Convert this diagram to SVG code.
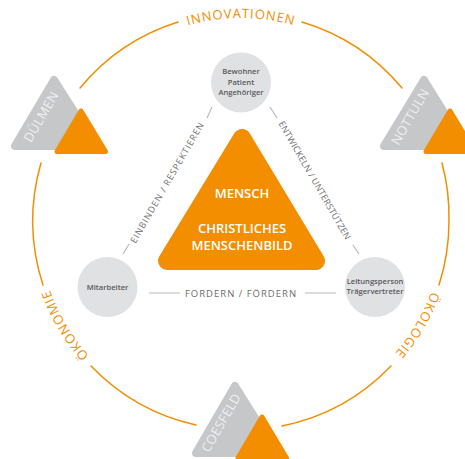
<svg xmlns="http://www.w3.org/2000/svg" width="465" height="459" viewBox="0 0 465 459">
<style>
text{font-family:"Open Sans","Noto Sans",sans-serif}
.arc{fill:none;stroke:#f28e00;stroke-width:1.5;stroke-linecap:round}
.ring{fill:#f28e00;font-size:13px;letter-spacing:.9px;text-anchor:middle}
.conn{fill:none;stroke:#b9babc;stroke-width:1.2}
.lab{fill:#6d6e70;font-size:9px;text-anchor:middle}
.circ{fill:#e0e1e3}
.ntx{fill:#58595b;font-size:7.6px;text-anchor:middle;font-weight:600}
.gr{fill:#c6c7c9;stroke:#c6c7c9;stroke-width:8;stroke-linejoin:round}
.or{fill:#f28e00;stroke:#f28e00;stroke-width:5;stroke-linejoin:round}
.loc{fill:#eeeff0;font-size:13px;text-anchor:middle;letter-spacing:.3px}
.mt{fill:#fff;font-size:13px;text-anchor:middle;font-weight:600}
</style>
<defs>
<path id="pt" d="M41 221A200 203 0 0 1 441 221"/>
<path id="pl" d="M241 424A203 203 0 0 1 38 221"/>
<path id="pr" d="M444 221A203 203 0 0 1 241 424"/>
</defs>
<g id="ring">
<path class="arc" d="M80 88A208 208 0 0 1 178 22"/>
<path class="arc" d="M302 22A208 208 0 0 1 402 88"/>
<path class="arc" d="M41 163A208 208 0 0 0 43 285"/>
<path class="arc" d="M91 366A208 208 0 0 0 196 425"/>
<path class="arc" d="M282 426A208 208 0 0 0 391 366"/>
<path class="arc" d="M439 285A208 208 0 0 0 449 221A208 208 0 0 0 442 163"/>
<text class="ring"><textPath href="#pt" startOffset="50%">INNOVATIONEN</textPath></text>
<text class="ring"><textPath href="#pl" startOffset="66%">ÖKONOMIE</textPath></text>
<text class="ring"><textPath href="#pr" startOffset="34%">ÖKOLOGIE</textPath></text>
</g>
<g id="connectors">
<path class="conn" d="M212 107L207 118M129 244L123 254M270 107L277 118M353 245L359 254M149 293H180M305 293H336"/>
<text class="lab" style="letter-spacing:.9px" transform="translate(170 184) rotate(-60)">EINBINDEN / RESPEKTIEREN</text>
<text class="lab" style="letter-spacing:.2px" transform="translate(312 182) rotate(60)">ENTWICKELN / UNTERSTÜTZEN</text>
<text class="lab" style="font-size:9.5px;letter-spacing:1px" x="241" y="296.500">FORDERN / FÖRDERN</text>
</g>
<g id="center">
<path fill="#f28e00" stroke="#f28e00" stroke-width="18" stroke-linejoin="round" d="M242 138L316 261H167Z"/>
<text class="mt" x="242" y="198">MENSCH</text>
<text class="mt" x="242" y="233">CHRISTLICHES</text>
<text class="mt" x="242" y="250">MENSCHENBILD</text>
</g>
<g id="bewohner">
<circle class="circ" cx="241" cy="82.500" r="30"/>
<text class="ntx" x="241" y="74">Bewohner</text>
<text class="ntx" x="241" y="84.500">Patient</text>
<text class="ntx" x="241" y="95">Angehöriger</text>
</g>
<g id="mitarbeiter">
<circle class="circ" cx="107.500" cy="287" r="30"/>
<text class="ntx" x="107.500" y="290">Mitarbeiter</text>
</g>
<g id="leitung">
<circle class="circ" cx="375" cy="287" r="30"/>
<text class="ntx" x="375" y="284">Leitungsperson</text>
<text class="ntx" x="375" y="294">Trägervertreter</text>
</g>
<g id="duelmen">
<path class="gr" d="M54 80L96 146H15Z"/>
<path class="or" d="M81 111L105.500 151.500H57Z"/>
<text class="loc" transform="translate(45 119) rotate(-60)">DÜLMEN</text>
</g>
<g id="nottuln">
<path class="gr" d="M424 80L465 146H384Z"/>
<path class="or" d="M450 111L474.500 151.500H426Z"/>
<text class="loc" transform="translate(414 119) rotate(-60)">NOTTULN</text>
</g>
<g id="coesfeld">
<path class="gr" d="M235 386L277 453H196Z"/>
<path class="or" d="M262 417L286.500 458H238Z"/>
<text class="loc" transform="translate(225 425) rotate(-60)">COESFELD</text>
</g>
</svg>
